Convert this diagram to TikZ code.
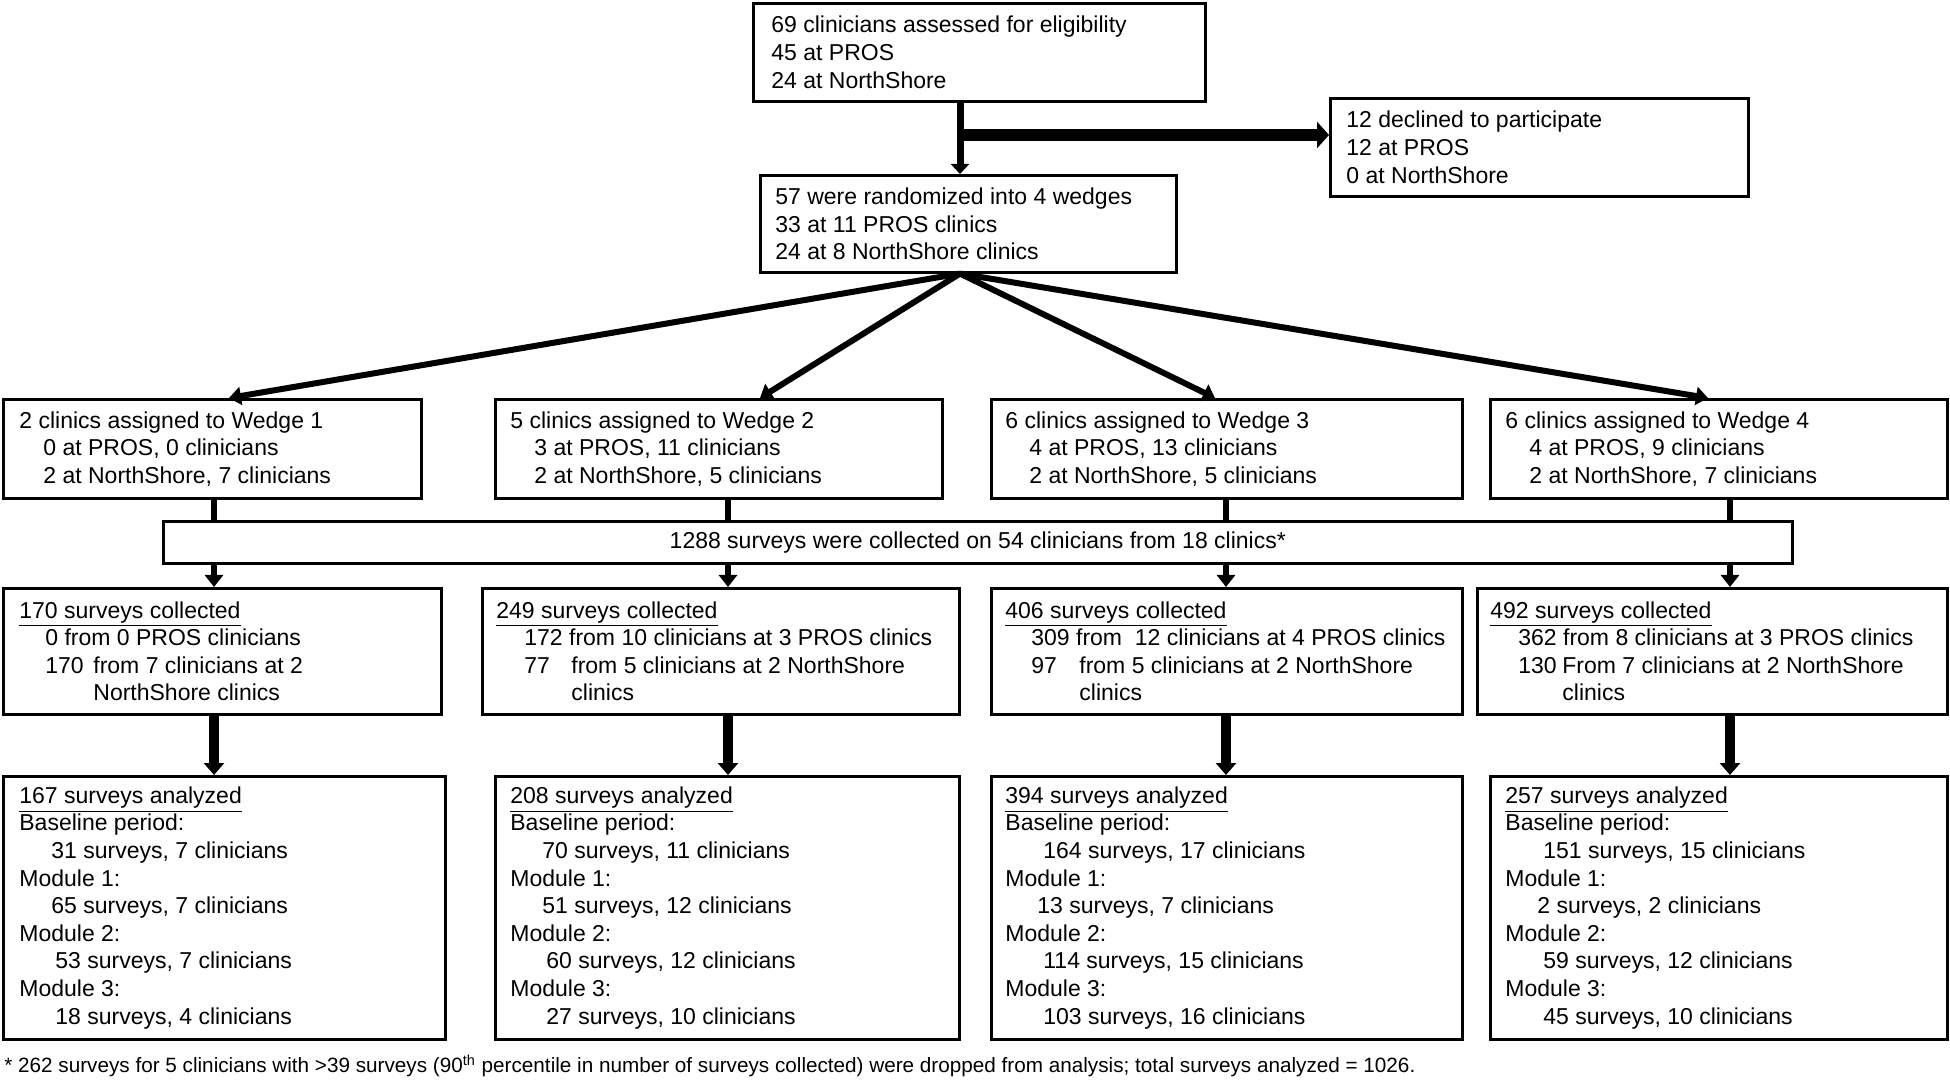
\documentclass[tikz,border=0pt]{standalone}
\usepackage{fontspec}
\setmainfont{Liberation Sans}
\usetikzlibrary{arrows.meta}
\newcommand\mainf{\fontsize{11.5pt}{13.8pt}\selectfont}
\newcommand\notef{\fontsize{10.35pt}{12pt}\selectfont}
\newcommand\mybox[7]{%
  \node[frame, minimum width=#4*0.5pt, minimum height=#5*0.5pt] (#1) at (#2,#3) {};
  \node[txt] (#1t) at ([xshift=#6*0.5pt]#1.west) {#7};}
\newcommand\ind[1]{\hspace*{#1pt}}
\begin{document}
\begin{tikzpicture}[x=0.5pt,y=-0.5pt,
  frame/.style={draw, line width=1.3pt, anchor=north west, inner sep=0pt},
  txt/.style={anchor=west, align=left, inner sep=0pt, font=\mainf},
  thinarrow/.style={line width=3pt, -{Triangle[length=6pt,width=9pt]}},
  fatarrow/.style={line width=6pt, -{Triangle[length=6pt,width=13pt]}},
  thickarrow/.style={line width=4.8pt, -{Triangle[length=6pt,width=10pt]}},
  plainline/.style={line width=3pt}]
\useasboundingbox (0,0) rectangle (1950,1085);
\fill[white] (0,0) rectangle (1950,1085);

% top level
\mybox{top}{752}{2}{452}{98}{19}{69 clinicians assessed for eligibility\\45 at PROS\\24 at NorthShore}
\mybox{decl}{1329}{97}{418}{98}{17}{12 declined to participate\\12 at PROS\\0 at NorthShore}
\mybox{rand}{759}{174}{416}{97}{16}{57 were randomized into 4 wedges\\33 at 11 PROS clinics\\24 at 8 NorthShore clinics}

% wedges
\mybox{w1}{2}{398}{418}{99}{17}{2 clinics assigned to Wedge 1\\\ind{12}0 at PROS, 0 clinicians\\\ind{12}2 at NorthShore, 7 clinicians}
\mybox{w2}{494}{398}{447}{99}{16}{5 clinics assigned to Wedge 2\\\ind{12}3 at PROS, 11 clinicians\\\ind{12}2 at NorthShore, 5 clinicians}
\mybox{w3}{990}{398}{471}{99}{15}{6 clinics assigned to Wedge 3\\\ind{12}4 at PROS, 13 clinicians\\\ind{12}2 at NorthShore, 5 clinicians}
\mybox{w4}{1489}{398}{457}{99}{16}{6 clinics assigned to Wedge 4\\\ind{12}4 at PROS, 9 clinicians\\\ind{12}2 at NorthShore, 7 clinicians}

% collected bar
\node[frame, minimum width=814.5pt, minimum height=21pt] (bar) at (162,520) {};
\node[txt, anchor=center] (bart) at (bar.center) {1288 surveys were collected on 54 clinicians from 18 clinics*};

% collected boxes
\mybox{c1}{2}{587}{438}{126}{17}{\underline{170 surveys collected}\\\ind{13}0 from 0 PROS clinicians\\\ind{13}\makebox[24pt][l]{170}from 7 clinicians at 2\\\ind{37}NorthShore clinics}
\mybox{c2}{481}{587}{477}{126}{15}{\underline{249 surveys collected}\\\ind{14}172 from 10 clinicians at 3 PROS clinics\\\ind{14}\makebox[23.5pt][l]{77}from 5 clinicians at 2 NorthShore\\\ind{37.5}clinics}
\mybox{c3}{990}{587}{471}{126}{15}{\underline{406 surveys collected}\\\ind{13}309 from\ \ 12 clinicians at 4 PROS clinics\\\ind{13}\makebox[24pt][l]{97}from 5 clinicians at 2 NorthShore\\\ind{37}clinics}
\mybox{c4}{1476}{587}{470}{126}{14}{\underline{492 surveys collected}\\\ind{14}362 from 8 clinicians at 3 PROS clinics\\\ind{14}\makebox[22pt][l]{130}From 7 clinicians at 2 NorthShore\\\ind{36}clinics}

% analyzed boxes
\mybox{a1}{2}{775}{442}{263}{17}{\underline{167 surveys analyzed}\\Baseline period:\\\ind{16}31 surveys, 7 clinicians\\Module 1:\\\ind{16}65 surveys, 7 clinicians\\Module 2:\\\ind{18}53 surveys, 7 clinicians\\Module 3:\\\ind{18}18 surveys, 4 clinicians}
\mybox{a2}{494}{775}{464}{263}{16}{\underline{208 surveys analyzed}\\Baseline period:\\\ind{16}70 surveys, 11 clinicians\\Module 1:\\\ind{16}51 surveys, 12 clinicians\\Module 2:\\\ind{18}60 surveys, 12 clinicians\\Module 3:\\\ind{18}27 surveys, 10 clinicians}
\mybox{a3}{990}{775}{471}{263}{15}{\underline{394 surveys analyzed}\\Baseline period:\\\ind{19}164 surveys, 17 clinicians\\Module 1:\\\ind{16}13 surveys, 7 clinicians\\Module 2:\\\ind{19}114 surveys, 15 clinicians\\Module 3:\\\ind{19}103 surveys, 16 clinicians}
\mybox{a4}{1489}{775}{457}{263}{16}{\underline{257 surveys analyzed}\\Baseline period:\\\ind{19}151 surveys, 15 clinicians\\Module 1:\\\ind{16}2 surveys, 2 clinicians\\Module 2:\\\ind{19}59 surveys, 12 clinicians\\Module 3:\\\ind{19}45 surveys, 10 clinicians}

% footnote
\node[txt, font=\notef] (note) at (4,1066) {* 262 surveys for 5 clinicians with >39 surveys (90\textsuperscript{th} percentile in number of surveys collected) were dropped from analysis; total surveys analyzed = 1026.};

% coordinates for connector columns
\coordinate (tx) at (960,0);
\coordinate (br) at (960,135);
\coordinate (f1) at (229,0);
\coordinate (f2) at (760,0);
\coordinate (f3) at (1215,0);
\coordinate (f4) at (1708,0);
\coordinate (k1) at (214,0);
\coordinate (k2) at (728,0);
\coordinate (k3) at (1226,0);
\coordinate (k4) at (1730,0);

% connectors
\draw[line width=3.5pt, -{Triangle[length=5pt,width=9pt]}] (top.south -| tx) -- (rand.north -| tx);
\draw[fatarrow] (br) -- (decl.west |- br);
\foreach \i in {1,2,3,4}{
  \draw[thinarrow] (rand.south -| tx) -- (w\i.north -| f\i);
  \draw[plainline] (w\i.south -| k\i) -- (bar.north -| k\i);
  \draw[thinarrow] (bar.south -| k\i) -- (c\i.north -| k\i);
  \draw[thickarrow] (c\i.south -| k\i) -- (a\i.north -| k\i);
}
\end{tikzpicture}
\end{document}
